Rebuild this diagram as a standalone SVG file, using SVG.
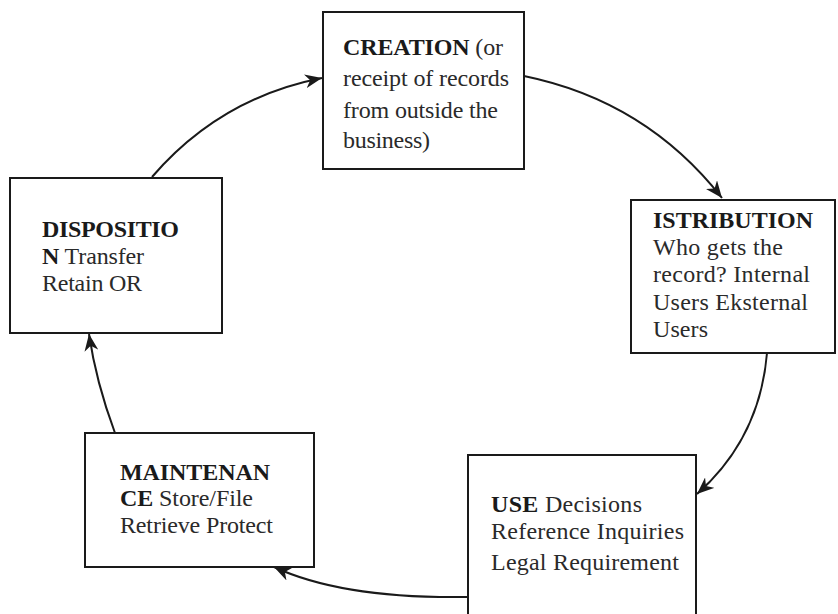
<svg xmlns="http://www.w3.org/2000/svg" width="838" height="614" viewBox="0 0 838 614">
<style>
.box{fill:#ffffff;stroke:#1a1a1a;stroke-width:2}
.t{font-family:"Liberation Serif","Times New Roman",serif;font-size:24px;fill:#2a2a2a}
.b{font-weight:bold;fill:#1a1a1a}
.c{fill:none;stroke:#1a1a1a;stroke-width:2}
</style>
<defs>
<marker id="ah" markerUnits="userSpaceOnUse" markerWidth="18" markerHeight="14" refX="17" refY="7" orient="auto">
<path d="M0,0 L17,7 L0,14 L5,7 Z" fill="#1a1a1a"/>
</marker>
</defs>
<rect width="838" height="614" fill="#ffffff"/>
<g id="connectors">
<path class="c" d="M524,76 Q646,101 722,198" marker-end="url(#ah)"/>
<path class="c" d="M767,353 Q760,438 697,494" marker-end="url(#ah)"/>
<path class="c" d="M468,597 Q343,599 274,567" marker-end="url(#ah)"/>
<path class="c" d="M115,433 Q96,382 89,334" marker-end="url(#ah)"/>
<path class="c" d="M152,177 Q220,98 322,78" marker-end="url(#ah)"/>
</g>
<g id="creation">
<rect class="box" x="323" y="12" width="201" height="157"/>
<text class="t" x="343" y="55" textLength="160" lengthAdjust="spacing"><tspan class="b">CREATION</tspan> (or</text>
<text class="t" x="343" y="86" textLength="166" lengthAdjust="spacing">receipt of records</text>
<text class="t" x="343" y="118" textLength="155" lengthAdjust="spacing">from outside the</text>
<text class="t" x="343" y="148" textLength="87" lengthAdjust="spacing">business)</text>
</g>
<g id="distribution">
<rect class="box" x="631" y="200" width="204" height="153"/>
<text class="t b" x="653" y="228" textLength="160" lengthAdjust="spacing">ISTRIBUTION</text>
<text class="t" x="653" y="255" textLength="130" lengthAdjust="spacing">Who gets the</text>
<text class="t" x="653" y="282" textLength="157" lengthAdjust="spacing">record? Internal</text>
<text class="t" x="653" y="310" textLength="155" lengthAdjust="spacing">Users Eksternal</text>
<text class="t" x="653" y="337" textLength="55" lengthAdjust="spacing">Users</text>
</g>
<g id="use">
<rect class="box" x="468" y="455" width="228" height="170"/>
<text class="t" x="491" y="512" textLength="151" lengthAdjust="spacing"><tspan class="b">USE</tspan> Decisions</text>
<text class="t" x="491" y="539" textLength="193" lengthAdjust="spacing">Reference Inquiries</text>
<text class="t" x="491" y="570" textLength="188" lengthAdjust="spacing">Legal Requirement</text>
</g>
<g id="maintenance">
<rect class="box" x="85" y="433" width="229" height="134"/>
<text class="t b" x="120" y="480" textLength="150" lengthAdjust="spacing">MAINTENAN</text>
<text class="t" x="120" y="506" textLength="133" lengthAdjust="spacing"><tspan class="b">CE</tspan> Store/File</text>
<text class="t" x="120" y="533" textLength="153" lengthAdjust="spacing">Retrieve Protect</text>
</g>
<g id="disposition">
<rect class="box" x="10" y="178" width="212" height="155"/>
<text class="t b" x="42" y="237" textLength="137" lengthAdjust="spacing">DISPOSITIO</text>
<text class="t" x="42" y="264" textLength="102" lengthAdjust="spacing"><tspan class="b">N</tspan> Transfer</text>
<text class="t" x="42" y="291" textLength="100" lengthAdjust="spacing">Retain OR</text>
</g>
</svg>
